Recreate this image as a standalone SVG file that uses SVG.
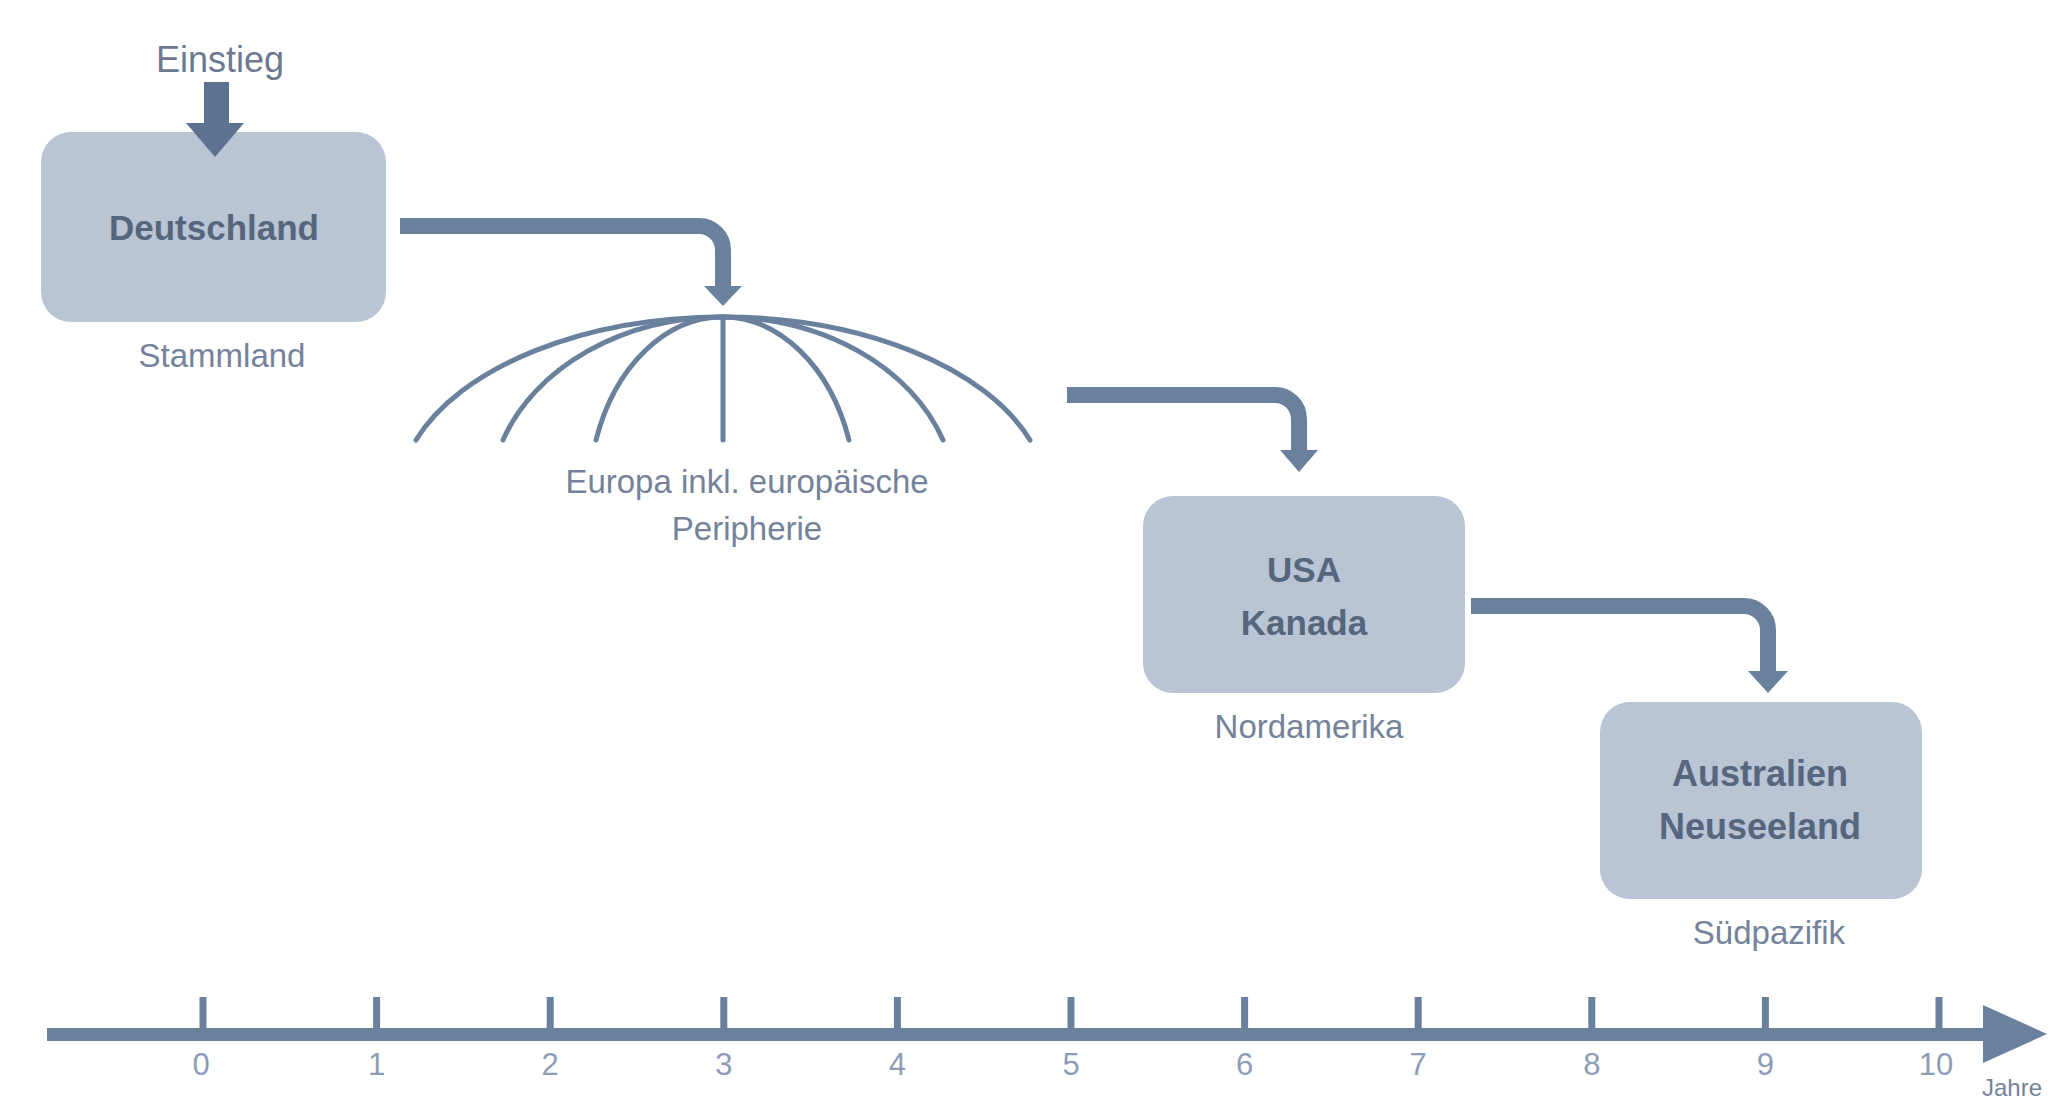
<svg xmlns="http://www.w3.org/2000/svg" width="2059" height="1100" viewBox="0 0 2059 1100">
<defs>
<style>
.box{fill:#b9c4d4;}
.bt{font-family:"Liberation Sans",Arial,sans-serif;font-weight:bold;font-size:35px;fill:#56667c;text-anchor:middle;}
.lt{font-family:"Liberation Sans",Arial,sans-serif;font-size:33px;fill:#74839a;text-anchor:middle;}
.ax{font-family:"Liberation Sans",Arial,sans-serif;font-size:31px;fill:#8c9db5;text-anchor:middle;}
.conn{fill:none;stroke:#6a819e;stroke-width:16;}
.head{fill:#6a819e;}
.globe{fill:none;stroke:#6a819e;stroke-width:5;stroke-linecap:round;}
.tick{stroke:#6a819e;stroke-width:7;}
</style>
</defs>
<rect width="2059" height="1100" fill="#ffffff"/>

<g id="deutschland">
<rect class="box" x="41" y="132" width="345" height="190" rx="30" ry="30"/>
<text class="bt" x="214" y="240">Deutschland</text>
<text class="lt" x="222" y="367">Stammland</text>
</g>

<g id="einstieg">
<text class="lt" x="220" y="72" style="font-size:36px;fill:#6b7a90">Einstieg</text>
<rect x="204" y="82" width="25" height="43" fill="#5d7290"/>
<polygon points="186,123 244,123 215,157" fill="#5d7290"/>
</g>

<g id="europa">
<path class="globe" d="M416 440 A325 183 0 0 1 723 317 A325 183 0 0 1 1030 440"/>
<path class="globe" d="M503 440 A233 183 0 0 1 723 317 A233 183 0 0 1 943 440"/>
<path class="globe" d="M596 440 A134 183 0 0 1 723 317 A134 183 0 0 1 849 440"/>
<line class="globe" x1="723" y1="317" x2="723" y2="440"/>
<text class="lt" x="747" y="493">Europa inkl. europäische</text>
<text class="lt" x="747" y="540">Peripherie</text>
</g>

<g id="usa">
<rect class="box" x="1143" y="496" width="322" height="197" rx="30" ry="30"/>
<text class="bt" x="1304" y="582">USA</text>
<text class="bt" x="1304" y="635">Kanada</text>
<text class="lt" x="1309" y="738">Nordamerika</text>
</g>

<g id="australien">
<rect class="box" x="1600" y="702" width="322" height="197" rx="30" ry="30"/>
<text class="bt" x="1760" y="786" style="font-size:36px">Australien</text>
<text class="bt" x="1760" y="839" style="font-size:36px">Neuseeland</text>
<text class="lt" x="1769" y="944">Südpazifik</text>
</g>

<g id="connectors">
<path class="conn" d="M400 226 H699 A24 24 0 0 1 723 250 V288"/>
<polygon class="head" points="704,286 742,286 723,306"/>
<path class="conn" d="M1067 395 H1275 A24 24 0 0 1 1299 419 V452"/>
<polygon class="head" points="1280,450 1318,450 1299,472"/>
<path class="conn" d="M1471 606 H1744 A24 24 0 0 1 1768 630 V673"/>
<polygon class="head" points="1748,671 1788,671 1768,693"/>
</g>

<g id="axis">
<rect x="47" y="1028" width="1938" height="13" fill="#6a819e"/>
<polygon points="1983,1005 2047,1034 1983,1063" fill="#6a819e"/>
<line class="tick" x1="203" y1="997" x2="203" y2="1034"/>
<line class="tick" x1="376.6" y1="997" x2="376.6" y2="1034"/>
<line class="tick" x1="550.2" y1="997" x2="550.2" y2="1034"/>
<line class="tick" x1="723.8" y1="997" x2="723.8" y2="1034"/>
<line class="tick" x1="897.4" y1="997" x2="897.4" y2="1034"/>
<line class="tick" x1="1071" y1="997" x2="1071" y2="1034"/>
<line class="tick" x1="1244.6" y1="997" x2="1244.6" y2="1034"/>
<line class="tick" x1="1418.2" y1="997" x2="1418.2" y2="1034"/>
<line class="tick" x1="1591.8" y1="997" x2="1591.8" y2="1034"/>
<line class="tick" x1="1765.4" y1="997" x2="1765.4" y2="1034"/>
<line class="tick" x1="1939" y1="997" x2="1939" y2="1034"/>
<text class="ax" x="201" y="1075">0</text>
<text class="ax" x="376.6" y="1075">1</text>
<text class="ax" x="550.2" y="1075">2</text>
<text class="ax" x="723.8" y="1075">3</text>
<text class="ax" x="897.4" y="1075">4</text>
<text class="ax" x="1071" y="1075">5</text>
<text class="ax" x="1244.6" y="1075">6</text>
<text class="ax" x="1418.2" y="1075">7</text>
<text class="ax" x="1591.8" y="1075">8</text>
<text class="ax" x="1765.4" y="1075">9</text>
<text class="ax" x="1936" y="1075">10</text>
<text class="lt" x="2012" y="1096" style="font-size:24px">Jahre</text>
</g>
</svg>
